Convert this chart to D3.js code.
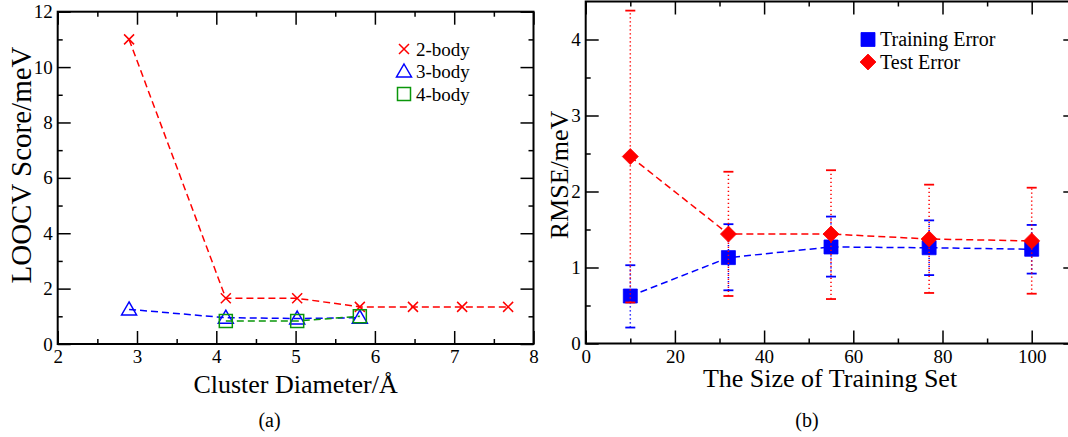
<!DOCTYPE html>
<html>
<head>
<meta charset="utf-8">
<script src="https://cdn.jsdelivr.net/npm/d3@7"></script>
<style>
  body { margin: 0; background: #fff; }
  svg { display: block; font-family: "Liberation Serif", "Times New Roman", serif; }
</style>
</head>
<body>
<svg width="1068" height="437"></svg>
<script>
// ---- panel (a): LOOCV score vs cluster diameter
const diam2 = [2.9, 4.12, 5.02, 5.81, 6.48, 7.1, 7.68];
const loocv2 = [11.0, 1.65, 1.65, 1.34, 1.34, 1.34, 1.34];
const diam3 = [2.9, 4.12, 5.02, 5.81];
const loocv3 = [1.25, 0.95, 0.92, 0.95];
const diam4 = [4.12, 5.02, 5.81];
const loocv4 = [0.83, 0.83, 1.0];
const legendA = ["2-body", "3-body", "4-body"];

// ---- panel (b): RMSE vs training set size
const trainSize = [10, 32, 55, 77, 100];
const trainErr = [0.625, 1.13, 1.27, 1.26, 1.24];
const trainLo = [0.21, 0.70, 0.88, 0.90, 0.92];
const trainHi = [1.03, 1.57, 1.67, 1.62, 1.56];
const testErr = [2.46, 1.44, 1.44, 1.375, 1.35];
const testLo = [0.54, 0.625, 0.585, 0.665, 0.655];
const testHi = [4.38, 2.26, 2.28, 2.09, 2.05];
const legendB = ["Training Error", "Test Error"];

const RED = "#ff0000", BLUE = "#0000ff", GREEN = "#0a960a";

let svg = d3.select("svg");
svg.append("rect").attr("width", 1068).attr("height", 437).attr("fill", "#fff");

// symbol paths, centered on 0,0
const sym = {
  cross: "M-5,-5L5,5M5,-5L-5,5",
  triangle: "M0,-7.5L7.5,5.5L-7.5,5.5Z",
  square: "M-6.5,-6.5H6.5V6.5H-6.5Z",
  fsquare: "M-7,-7H7V7H-7Z",
  diamond: "M0,-8L8,0L0,8L-8,0Z"
};

// box with inward ticks on all four sides, labels on bottom and left only
function frame(g, x, y, xmaj, xmin, ymaj, ymin) {
  let [x0, x1] = x.range(), [y0, y1] = y.range();
  let sides = [
    [() => d3.axisBottom(x), `translate(0,${y0})`, xmaj, xmin, true],
    [() => d3.axisTop(x), `translate(0,${y1})`, xmaj, xmin, false],
    [() => d3.axisLeft(y), `translate(${x0},0)`, ymaj, ymin, true],
    [() => d3.axisRight(y), `translate(${x1},0)`, ymaj, ymin, false]
  ];
  sides.forEach(([mk, tr, maj, min, lab], i) => {
    let gm = g.append("g").attr("transform", tr)
      .call(mk().tickValues(min).tickSize(-5).tickSizeOuter(0).tickFormat(""));
    gm.select(".domain").remove();
    gm.selectAll("line").attr("stroke-width", 1.5);

    let gM = g.append("g").attr("transform", tr)
      .call(mk().tickValues(maj).tickSize(-13).tickSizeOuter(0)
        .tickPadding(i < 2 ? 6 : 5)
        .tickFormat(lab ? d3.format("d") : ""));
    gM.select(".domain").remove();
    gM.selectAll("line").attr("stroke-width", 1.5);
    gM.selectAll("text").attr("font-size", 19).attr("fill", "#000")
      .style("font-family", "'Liberation Serif', 'Times New Roman', serif");
  });
  g.append("rect").attr("x", x0).attr("y", y1).attr("width", x1 - x0).attr("height", y0 - y1)
    .attr("fill", "none").attr("stroke", "#000").attr("stroke-width", 2);
}

function series(g, x, y, xs, ys, color, shape, filled) {
  let pts = xs.map((v, i) => [x(v), y(ys[i])]);
  g.append("path").attr("d", d3.line()(pts))
    .attr("fill", "none").attr("stroke", color).attr("stroke-width", 1.5)
    .attr("stroke-dasharray", "7,4");
  g.selectAll(null).data(pts).enter().append("path")
    .attr("transform", d => `translate(${d[0]},${d[1]})`)
    .attr("d", sym[shape])
    .attr("fill", filled ? color : "none")
    .attr("stroke", color).attr("stroke-width", filled ? 0.8 : 1.5);
}

function errorBars(g, x, y, xs, lo, hi, color) {
  let eb = g.append("g");
  xs.forEach((v, i) => {
    let cx = x(v);
    eb.append("line").attr("x1", cx).attr("x2", cx).attr("y1", y(lo[i])).attr("y2", y(hi[i]))
      .attr("stroke", color).attr("stroke-width", 1.5).attr("stroke-dasharray", "1.3,2.7");
    [lo[i], hi[i]].forEach(e => {
      eb.append("line").attr("x1", cx - 5).attr("x2", cx + 5).attr("y1", y(e)).attr("y2", y(e))
        .attr("stroke", color).attr("stroke-width", 1.8);
    });
  });
}

function legend(g, items, x0, y0, dy, fs) {
  items.forEach((it, i) => {
    let yy = y0 + i * dy;
    g.append("path").attr("transform", `translate(${x0},${yy})`).attr("d", sym[it.shape])
      .attr("fill", it.filled ? it.color : "none").attr("stroke", it.color)
      .attr("stroke-width", it.filled ? 0.8 : 1.5);
    g.append("text").attr("x", x0 + 12).attr("y", yy + 6.5).attr("font-size", fs).text(it.label);
  });
}

// ---------- panel (a)
let xa = d3.scaleLinear().domain([2, 8]).range([57.7, 533.5]);
let ya = d3.scaleLinear().domain([0, 12]).range([344, 11.7]);
let ga = svg.append("g");
frame(ga, xa, ya, d3.range(2, 8.01, 1), d3.range(2.5, 8, 1), d3.range(0, 12.01, 2), d3.range(1, 12, 2));
series(ga, xa, ya, diam2, loocv2, RED, "cross", false);
series(ga, xa, ya, diam3, loocv3, BLUE, "triangle", false);
series(ga, xa, ya, diam4, loocv4, GREEN, "square", false);
legend(ga, [
  { label: legendA[0], shape: "cross", color: RED },
  { label: legendA[1], shape: "triangle", color: BLUE },
  { label: legendA[2], shape: "square", color: GREEN }
], 404, 49, 22.5, 19);
ga.append("text").attr("x", 295.6).attr("y", 392.5).attr("text-anchor", "middle")
  .attr("font-size", 26).text("Cluster Diameter/Å");
ga.append("text").attr("transform", "translate(31,165) rotate(-90)").attr("text-anchor", "middle")
  .attr("font-size", 29).text("LOOCV Score/meV");
ga.append("text").attr("x", 269.5).attr("y", 426.5).attr("text-anchor", "middle")
  .attr("font-size", 20).text("(a)");

// ---------- panel (b)
let xb = d3.scaleLinear().domain([0, 110]).range([585.7, 585.7 + 110 * 4.46]);
let yb = d3.scaleLinear().domain([0, 4.5]).range([343.5, 1.5]);
let gb = svg.append("g");
frame(gb, xb, yb, d3.range(0, 110.1, 20), d3.range(10, 110, 20), d3.range(0, 4.51, 1), d3.range(0.5, 4.5, 1));
errorBars(gb, xb, yb, trainSize, trainLo, trainHi, BLUE);
series(gb, xb, yb, trainSize, trainErr, BLUE, "fsquare", true);
errorBars(gb, xb, yb, trainSize, testLo, testHi, RED);
series(gb, xb, yb, trainSize, testErr, RED, "diamond", true);
legend(gb, [
  { label: legendB[0], shape: "fsquare", color: BLUE, filled: true },
  { label: legendB[1], shape: "diamond", color: RED, filled: true }
], 868, 39.5, 22.5, 20);
gb.append("text").attr("x", 830).attr("y", 387).attr("text-anchor", "middle")
  .attr("font-size", 26).text("The Size of Training Set");
gb.append("text").attr("transform", "translate(568,175) rotate(-90)").attr("text-anchor", "middle")
  .attr("font-size", 26).text("RMSE/meV");
gb.append("text").attr("x", 807).attr("y", 426.5).attr("text-anchor", "middle")
  .attr("font-size", 20).text("(b)");
</script>
</body>
</html>
